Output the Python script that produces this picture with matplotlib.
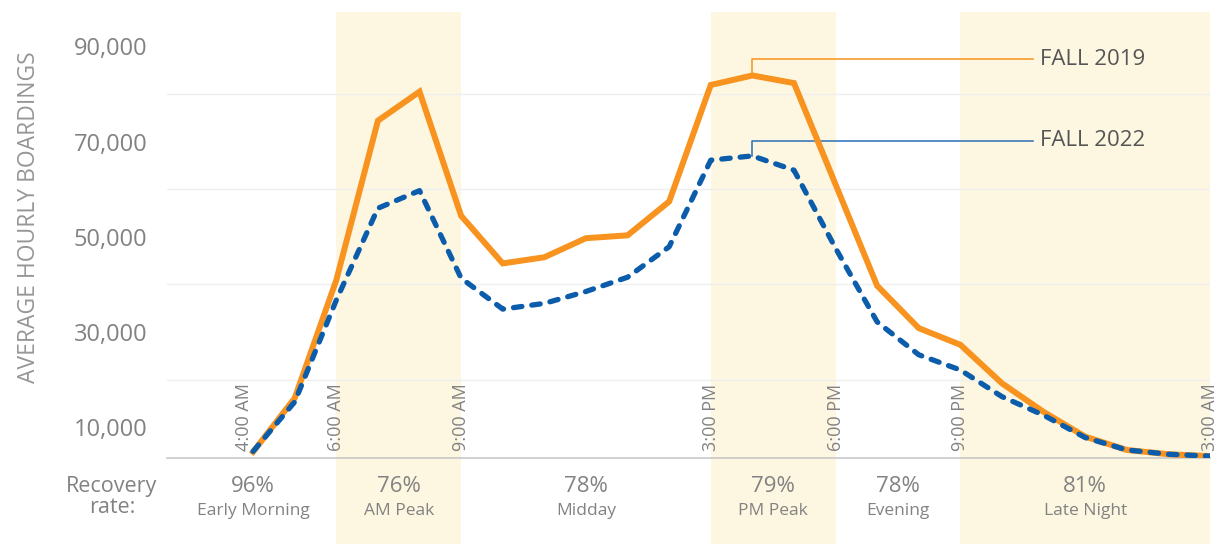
import matplotlib
matplotlib.use("Agg")
import matplotlib.pyplot as plt
from matplotlib import transforms
from matplotlib import font_manager

# hourly data, 4 AM (4) through 3 AM next day (27)
hours = list(range(4, 28))
fall_2019 = [4800, 16100, 40900, 74400, 80500, 54400, 44400, 45700, 49700, 50300,
             57400, 81900, 83900, 82300, 61000, 39700, 30800, 27300, 19200, 13200,
             8000, 5200, 4300, 3900]
fall_2022 = [4900, 15300, 36700, 56000, 59700, 41300, 34800, 36000, 38500, 41500,
             47900, 66100, 67000, 64000, 47600, 32100, 25200, 22000, 16400, 12500,
             7800, 5200, 4300, 3900]

tick_hours = [4, 6, 9, 15, 18, 21, 27]
tick_labels = ["4:00 AM", "6:00 AM", "9:00 AM", "3:00 PM", "6:00 PM", "9:00 PM", "3:00 AM"]
y_ticks = [10000, 30000, 50000, 70000, 90000]
grid_vals = [20000, 40000, 60000, 80000]

period_bounds = [2, 6, 9, 15, 18, 21, 27]
period_names = ["Early Morning", "AM Peak", "Midday", "PM Peak", "Evening", "Late Night"]
recovery = ["96%", "76%", "78%", "79%", "78%", "81%"]
shaded = [False, True, False, True, False, True]

ORANGE = "#f7931e"
BLUE = "#0b5cab"
SHADE = "#fdf6e0"
GRAY = "#828282"
DARK = "#555555"

avail = {f.name for f in font_manager.fontManager.ttflist}
base_font = "Open Sans" if "Open Sans" in avail else "DejaVu Sans"
plt.rcParams["font.family"] = [base_font, "DejaVu Sans"]

fig = plt.figure(figsize=(12.17, 5.44), dpi=100)
ax = fig.add_axes([167 / 1217, (544 - 457.7) / 544, (1210 - 167) / 1217, (457.7 - 12) / 544])
ax.set_xlim(period_bounds[0] - 0.07, period_bounds[-1])
ax.set_ylim(3570, 97240)

# shaded periods, running down through the recovery row
for i, sh in enumerate(shaded):
    if sh:
        ax.axvspan(period_bounds[i], period_bounds[i + 1], ymin=-0.2, ymax=1,
                   color=SHADE, lw=0, clip_on=False, zorder=0)

for g in grid_vals:
    ax.axhline(g, color="#efefef", lw=1, zorder=1)

ax.plot(hours, fall_2019, color=ORANGE, lw=4.3, solid_joinstyle="miter", zorder=3)
ax.plot(hours, fall_2022, color=BLUE, lw=3.8, linestyle=(0, (1.6, 1.9)),
        dash_capstyle="round", solid_joinstyle="round", zorder=4)

# series labels with leader lines from the 4 PM point
i_pk = hours.index(16)
x_end, x_txt = 22.75, 22.92
for vals, top, col, name in [(fall_2019, 87300, ORANGE, "FALL 2019"),
                             (fall_2022, 70200, "#2a6fb5", "FALL 2022")]:
    ax.plot([16, 16, x_end], [vals[i_pk], top, top], color=col, lw=1.1, zorder=2)
    ax.text(x_txt, top, name, fontsize=16, color=DARK, va="center", ha="left")

for sp in ["top", "right", "left"]:
    ax.spines[sp].set_visible(False)
ax.spines["bottom"].set_color("#c8c8c8")
ax.spines["bottom"].set_linewidth(1.2)

ax.set_xticks([])
ax.set_yticks(y_ticks)
ax.set_yticklabels([f"{v:,}" for v in y_ticks])
ax.tick_params(axis="y", length=0, pad=14, labelsize=17, labelcolor=GRAY)
ax.set_ylabel("AVERAGE HOURLY BOARDINGS", fontsize=16.5, color="#969696")
ax.yaxis.set_label_coords(-0.121, 0.54)

# rotated time labels sitting on the baseline
for h, lab in zip(tick_hours, tick_labels):
    ax.text(h, 3570 + 1500, lab, rotation=90, fontsize=13, color=GRAY,
            ha="right" if h == tick_hours[0] else "center", va="bottom", zorder=5)

# recovery rate row
trans = transforms.blended_transform_factory(ax.transData, fig.transFigure)
for i, (name, pct) in enumerate(zip(period_names, recovery)):
    xc = (period_bounds[i] + period_bounds[i + 1]) / 2
    ax.text(xc, (544 - 486) / 544, pct, transform=trans, ha="center", va="center",
            fontsize=16, color=GRAY)
    ax.text(xc, (544 - 511) / 544, name, transform=trans, ha="center", va="center",
            fontsize=12.5, color=GRAY)
fig.text(112 / 1217, (544 - 497) / 544, "Recovery\nrate:", ha="center", va="center",
         fontsize=15.5, color=GRAY, linespacing=1.0)

fig.savefig("out.png", dpi=100)
